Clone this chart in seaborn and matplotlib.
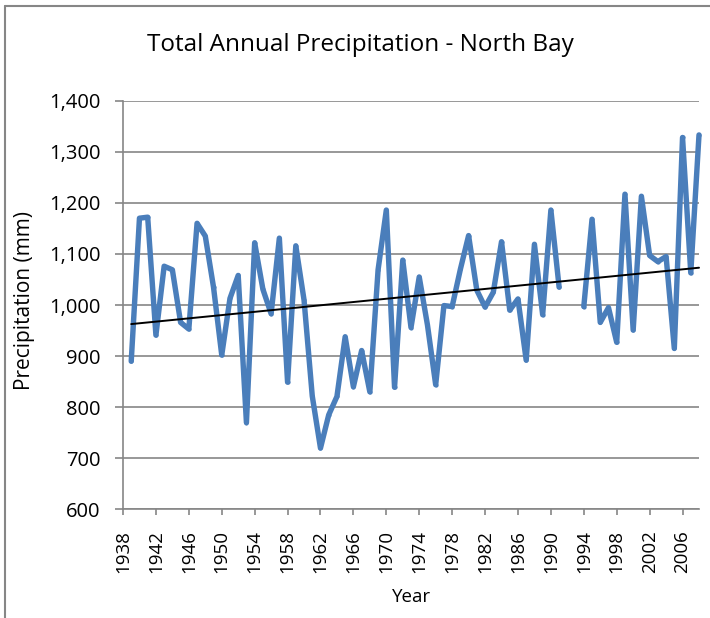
import numpy as np
import pandas as pd
import matplotlib
matplotlib.use("Agg")
import matplotlib.pyplot as plt
import seaborn as sns
from matplotlib.lines import Line2D
from matplotlib.ticker import FuncFormatter

# Annual totals (1992-1993 missing)
years_a = list(range(1939, 1992))
precip_a = [890, 1170, 1172, 941, 1076, 1069, 966, 953, 1160, 1135,
            1035, 902, 1013, 1058, 770, 1122, 1031, 983, 1131, 849,
            1116, 1010, 822, 720, 785, 821, 938, 840, 911, 830,
            1069, 1186, 839, 1088, 956, 1055, 961, 844, 999, 997,
            1070, 1136, 1029, 996, 1025, 1124, 990, 1012, 892, 1119,
            981, 1186, 1035]
years_b = list(range(1994, 2009))
precip_b = [997, 1168, 966, 995, 927, 1217, 951, 1213, 1097, 1085,
            1095, 915, 1328, 1063, 1333]

x_ticks = list(range(1938, 2007, 4))
y_ticks = [600, 700, 800, 900, 1000, 1100, 1200, 1300, 1400]

df = pd.DataFrame({
    'Year': years_a + years_b,
    'Precip': precip_a + precip_b,
    'segment': [0] * len(years_a) + [1] * len(years_b),
})

sns.set_style("white")
plt.rcParams['font.family'] = ['Open Sans', 'DejaVu Sans']
plt.rcParams['text.color'] = 'black'
plt.rcParams['xtick.color'] = 'black'
plt.rcParams['ytick.color'] = 'black'

fig = plt.figure(figsize=(7.1, 6.18), dpi=100)
ax = fig.add_axes([123 / 710, 1 - 509.4 / 618, 576 / 710, 408.7 / 618])

grid_col = '#868686'
for v in y_ticks:
    ax.axhline(v, color=grid_col, lw=1.2, zorder=0)

sns.lineplot(data=df, x='Year', y='Precip', units='segment', estimator=None,
             color='#4A7EBB', lw=3.9, marker='o', markersize=3,
             markeredgewidth=0, ax=ax, zorder=3, clip_on=False)
sns.regplot(data=df, x='Year', y='Precip', scatter=False, ci=None,
            truncate=True, color='black',
            line_kws={'lw': 1.4, 'zorder': 4, 'clip_on': False}, ax=ax)

ax.set_xlim(1938, 2008)
ax.set_ylim(600, 1400)
ax.set_xticks(x_ticks)
ax.set_xticklabels([str(y) for y in x_ticks], rotation=90)
ax.set_yticks(y_ticks)
ax.yaxis.set_major_formatter(FuncFormatter(lambda v, p: f'{int(v):,}'))

for s in ['top', 'right']:
    ax.spines[s].set_visible(False)
for s in ['left', 'bottom']:
    ax.spines[s].set_color(grid_col)
    ax.spines[s].set_linewidth(1.2)

ax.tick_params(axis='y', direction='out', length=6, width=1.2, color=grid_col,
               labelcolor='black', pad=10, labelsize=14.5)
ax.tick_params(axis='x', direction='out', length=4, width=1.2, color=grid_col,
               labelcolor='black', pad=11, labelsize=13.5)
ax.tick_params(left=True, bottom=True)

ax.set_xlabel('')
ax.set_ylabel('')
fig.text(412 / 710, 1 - 597 / 618, 'Year', ha='center', va='center', fontsize=13.5)
fig.text(25 / 710, 1 - 300 / 618, 'Precipitation (mm)', ha='center', va='center',
         rotation=90, fontsize=15)
fig.text(360 / 710, 1 - 45 / 618, 'Total Annual Precipitation - North Bay',
         ha='center', va='center', fontsize=17.5)

# chart-area border (top and left visible in the crop)
fig.add_artist(Line2D([4.5 / 710, 1], [1 - 5.5 / 618, 1 - 5.5 / 618],
                      transform=fig.transFigure, color=grid_col, lw=1.5))
fig.add_artist(Line2D([4.5 / 710, 4.5 / 710], [0, 1 - 5.5 / 618],
                      transform=fig.transFigure, color=grid_col, lw=1.5))

fig.savefig('out.png', dpi=100)
